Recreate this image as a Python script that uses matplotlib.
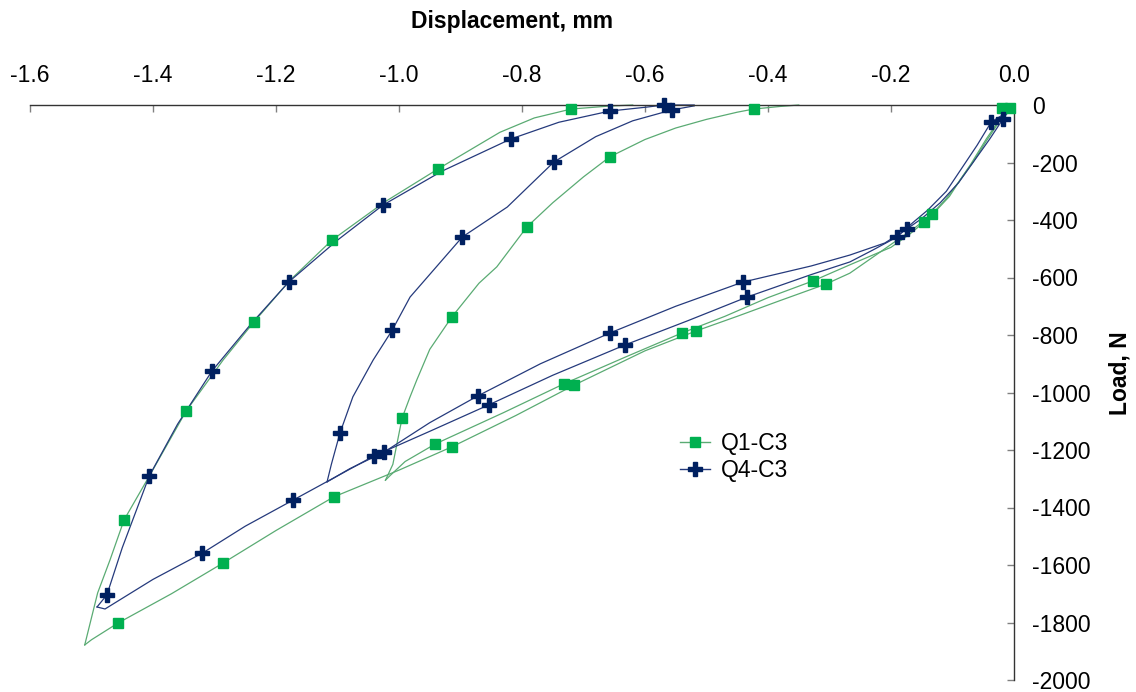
import matplotlib
matplotlib.use("Agg")
import matplotlib.pyplot as plt
from matplotlib.lines import Line2D

plt.rcParams['font.family'] = ['Liberation Sans', 'DejaVu Sans']

# Q1-C3 (green): two load/unload cycles, displacement mm / load N
q1_load1_x = [0, -0.01, -0.02, -0.044, -0.067, -0.088, -0.105, -0.13, -0.146, -0.17, -0.2, -0.267, -0.327,
              -0.4, -0.47, -0.54, -0.63, -0.732, -0.83, -0.941, -0.99, -1.015, -1.022]
q1_load1_y = [0, -15, -45, -122, -200, -262, -318, -375, -407, -450, -495, -556, -612,
              -670, -735, -793, -875, -970, -1070, -1179, -1240, -1290, -1305]
q1_unload1_x = [-1.022, -1.01, -0.995, -0.982, -0.971, -0.95, -0.914, -0.87, -0.841, -0.792, -0.75, -0.70,
                -0.657, -0.6, -0.55, -0.5, -0.45, -0.423, -0.38, -0.35]
q1_unload1_y = [-1305, -1250, -1089, -1015, -956, -850, -737, -620, -563, -424, -340, -250,
                -180, -120, -80, -50, -25, -14, -5, 0]
q1_load2_x = [0, -0.007, -0.02, -0.045, -0.07, -0.09, -0.11, -0.133, -0.16, -0.19, -0.23, -0.267, -0.306,
              -0.38, -0.45, -0.517, -0.6, -0.715, -0.81, -0.914, -1.0, -1.106, -1.2, -1.286, -1.37,
              -1.457, -1.5, -1.511]
q1_load2_y = [0, -10, -40, -118, -205, -268, -325, -379, -425, -470, -530, -585, -623,
              -680, -735, -786, -855, -974, -1080, -1189, -1270, -1363, -1480, -1593, -1700,
              -1802, -1860, -1878]
q1_unload2_x = [-1.511, -1.49, -1.47, -1.447, -1.405, -1.346, -1.286, -1.236, -1.177, -1.109, -1.023,
                -0.937, -0.836, -0.78, -0.72, -0.66, -0.62]
q1_unload2_y = [-1878, -1697, -1583, -1443, -1287, -1064, -887, -755, -609, -470, -337,
                -223, -95, -45, -14, -4, 0]
q1_mark_x = [-0.007, -0.020, -0.133, -0.146, -0.327, -0.306, -0.540, -0.517, -0.732, -0.715, -0.941,
             -0.914, -0.995, -0.914, -0.792, -0.657, -0.423, -0.720, -0.937, -1.109, -1.236, -1.346,
             -1.447, -1.106, -1.286, -1.457]
q1_mark_y = [-10, -10, -379, -407, -612, -623, -793, -786, -970, -974, -1179,
             -1189, -1089, -737, -424, -180, -14, -14, -223, -470, -755, -1064,
             -1443, -1363, -1593, -1802]

# Q4-C3 (navy)
q4_load1_x = [0, -0.01, -0.018, -0.04, -0.065, -0.09, -0.12, -0.15, -0.174, -0.21, -0.267, -0.33,
              -0.441, -0.55, -0.657, -0.77, -0.872, -0.95, -1.024, -1.08, -1.117]
q4_load1_y = [0, -25, -49, -120, -195, -270, -340, -395, -431, -480, -522, -560,
              -616, -700, -793, -900, -1012, -1105, -1207, -1265, -1311]
q4_unload1_x = [-1.117, -1.11, -1.096, -1.075, -1.042, -1.011, -0.982, -0.897, -0.824, -0.748, -0.68,
                -0.62, -0.556, -0.52]
q4_unload1_y = [-1311, -1250, -1141, -1015, -887, -783, -668, -459, -355, -198, -110,
                -55, -17, -3]
q4_load2_x = [0, -0.015, -0.037, -0.06, -0.085, -0.11, -0.14, -0.165, -0.19, -0.23, -0.267, -0.33,
              -0.434, -0.53, -0.633, -0.75, -0.854, -0.95, -1.041, -1.1, -1.172, -1.25, -1.32, -1.4,
              -1.478, -1.491]
q4_load2_y = [0, -30, -59, -140, -220, -300, -365, -410, -459, -505, -546, -590,
              -668, -750, -835, -940, -1043, -1135, -1221, -1290, -1374, -1465, -1559, -1650,
              -1753, -1746]
q4_unload2_x = [-1.491, -1.475, -1.45, -1.406, -1.36, -1.304, -1.24, -1.179, -1.10, -1.026, -0.93,
                -0.818, -0.74, -0.657, -0.60, -0.569, -0.52]
q4_unload2_y = [-1746, -1704, -1540, -1290, -1110, -925, -760, -615, -470, -348, -230,
                -118, -60, -21, -8, 0, 0]
q4_mark_x = [-0.037, -0.018, -0.174, -0.190, -0.441, -0.434, -0.657, -0.633, -0.872, -0.854, -1.024,
             -1.041, -1.096, -1.011, -0.897, -0.748, -0.556, -0.569, -0.657, -0.818, -1.026, -1.179,
             -1.304, -1.406, -1.475, -1.172, -1.320]
q4_mark_y = [-59, -49, -431, -459, -616, -668, -793, -835, -1012, -1043, -1207,
             -1221, -1141, -783, -459, -198, -17, 0, -21, -118, -348, -615,
             -925, -1290, -1704, -1374, -1559]

x_ticks = [-1.6, -1.4, -1.2, -1.0, -0.8, -0.6, -0.4, -0.2, 0.0]
y_ticks = [0, -200, -400, -600, -800, -1000, -1200, -1400, -1600, -1800, -2000]

green_line, green_mark = '#5aab73', '#00b050'
navy_line, navy_mark = '#253a7c', '#002060'

fig = plt.figure(figsize=(11.36, 6.92), dpi=100)
ax = fig.add_axes([30 / 1136, 1 - 680 / 692, 984 / 1136, 575 / 692])

for xs, ys in [(q1_load1_x, q1_load1_y), (q1_unload1_x, q1_unload1_y),
               (q1_load2_x, q1_load2_y), (q1_unload2_x, q1_unload2_y)]:
    ax.plot(xs, ys, color=green_line, lw=0.9, clip_on=False)
for xs, ys in [(q4_load1_x, q4_load1_y), (q4_unload1_x, q4_unload1_y),
               (q4_load2_x, q4_load2_y), (q4_unload2_x, q4_unload2_y)]:
    ax.plot(xs, ys, color=navy_line, lw=0.9, clip_on=False)

ax.plot(q1_mark_x, q1_mark_y, ls='none', marker='s', ms=7.5, color=green_mark, clip_on=False, zorder=4)
ax.plot(q4_mark_x, q4_mark_y, ls='none', marker='P', ms=9.5, color=navy_mark, clip_on=False, zorder=4)

ax.set_xlim(-1.6, 0)
ax.set_ylim(-2000, 0)
ax.set_xticks(x_ticks)
ax.set_xticklabels([f'{t:.1f}' for t in x_ticks])
ax.set_yticks(y_ticks)
ax.set_yticklabels([str(t) for t in y_ticks])

for s in ['left', 'bottom']:
    ax.spines[s].set_visible(False)
for s in ['top', 'right']:
    ax.spines[s].set_color('#333333')
    ax.spines[s].set_linewidth(1.0)

ax.xaxis.tick_top()
ax.yaxis.tick_right()
ax.tick_params(axis='both', direction='in', length=5, width=1, color='#808080',
               labelsize=16.5, pad=13)

ax.set_xlabel('Displacement, mm', fontsize=16.5, fontweight='bold')
ax.xaxis.set_label_position('top')
ax.xaxis.set_label_coords(0.49, 1.134)
# y title placed by hand so it sits fully inside the figure
fig.text(1120 / 1136, 1 - 373 / 692, 'Load, N', rotation=90, ha='center', va='center',
         fontsize=16.5, fontweight='bold')

handles = [Line2D([], [], color=green_line, lw=1, marker='s', ms=7.5, mfc=green_mark, mec=green_mark),
           Line2D([], [], color=navy_line, lw=1, marker='P', ms=9.5, mfc=navy_mark, mec=navy_mark)]
fig.legend(handles, ['Q1-C3', 'Q4-C3'], loc='center left', bbox_to_anchor=(680 / 1136, 1 - 457 / 692),
           frameon=False, fontsize=16.5, handlelength=1.3, handletextpad=0.5, labelspacing=0.15,
           borderpad=0, borderaxespad=0)

fig.savefig('out.png', dpi=100)
